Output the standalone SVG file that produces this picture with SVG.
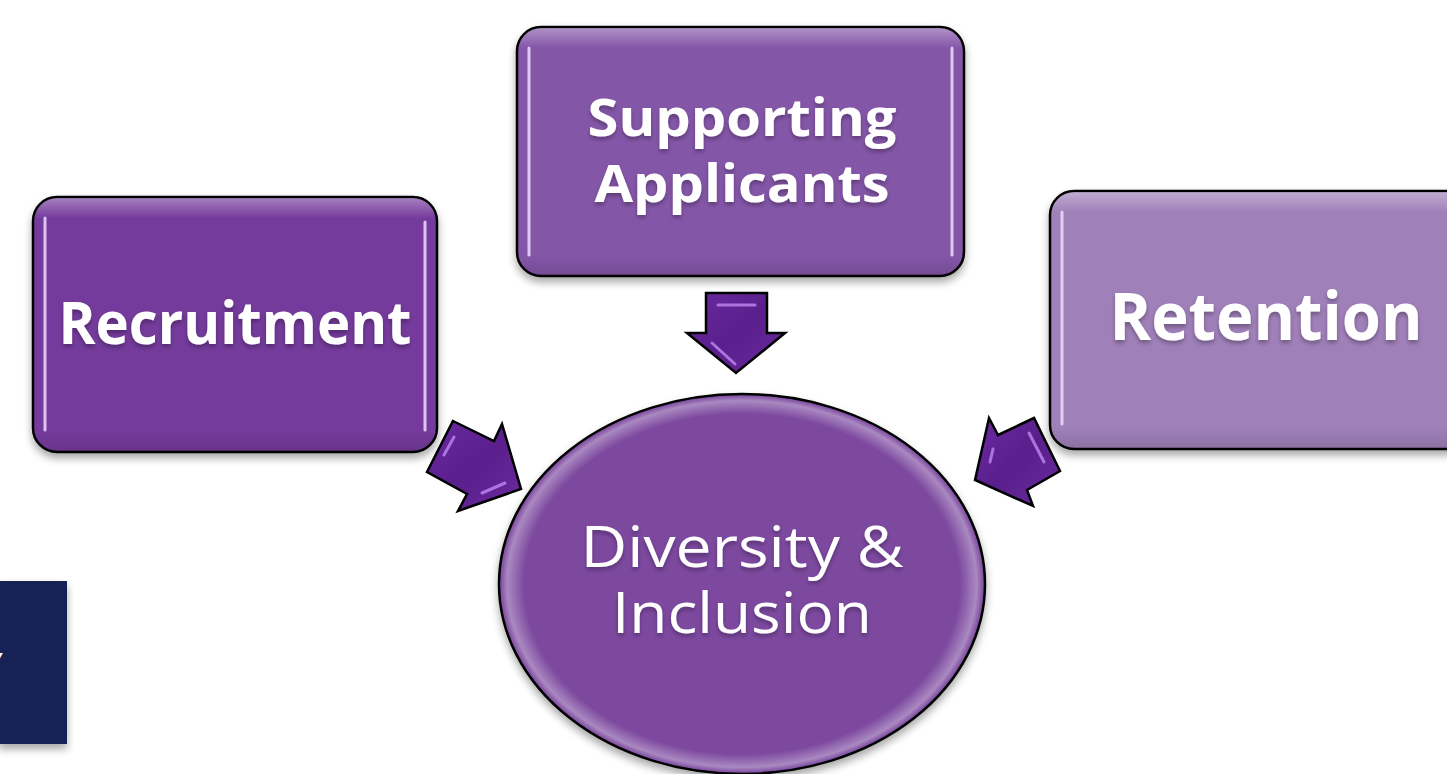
<svg xmlns="http://www.w3.org/2000/svg" width="1447" height="774" viewBox="0 0 1447 774">
  <defs>
    <filter id="shadow" x="-10%" y="-10%" width="120%" height="130%">
      <feGaussianBlur in="SourceAlpha" stdDeviation="4"/>
      <feOffset dx="0" dy="5" result="b"/>
      <feComponentTransfer><feFuncA type="linear" slope="0.35"/></feComponentTransfer>
      <feMerge><feMergeNode/><feMergeNode in="SourceGraphic"/></feMerge>
    </filter>
    <filter id="tshadow" x="-10%" y="-20%" width="120%" height="150%">
      <feGaussianBlur in="SourceAlpha" stdDeviation="2"/>
      <feOffset dx="0" dy="3" result="b"/>
      <feComponentTransfer><feFuncA type="linear" slope="0.3"/></feComponentTransfer>
      <feMerge><feMergeNode/><feMergeNode in="SourceGraphic"/></feMerge>
    </filter>
    <linearGradient id="arrowGrad" x1="0" y1="0" x2="1" y2="1">
      <stop offset="0" stop-color="#6a2aa0"/>
      <stop offset="0.5" stop-color="#5a1f8c"/>
      <stop offset="1" stop-color="#6b2a9e"/>
    </linearGradient>
    <linearGradient id="gloss" x1="0" y1="0" x2="0" y2="1">
      <stop offset="0" stop-color="#ffffff" stop-opacity="0.35"/>
      <stop offset="0.08" stop-color="#ffffff" stop-opacity="0"/>
      <stop offset="0.92" stop-color="#000000" stop-opacity="0"/>
      <stop offset="1" stop-color="#000000" stop-opacity="0.12"/>
    </linearGradient>
    <radialGradient id="ellGloss" cx="0.5" cy="0.5" r="0.5">
      <stop offset="0.9" stop-color="#ffffff" stop-opacity="0"/>
      <stop offset="0.97" stop-color="#ffffff" stop-opacity="0.35"/>
      <stop offset="1" stop-color="#ffffff" stop-opacity="0"/>
    </radialGradient>
  </defs>
  <style>
    .box { stroke: #000; stroke-width: 2.5; }
    .hl { stroke: #f0dcff; stroke-width: 3; stroke-linecap: round; opacity: 0.85; fill: none; }
    .arrow { fill: url(#arrowGrad); stroke: #000; stroke-width: 2.5; stroke-linejoin: miter; }
    .ahl { stroke: #b57ee6; stroke-width: 3; stroke-linecap: round; fill: none; opacity: 0.9; }
    .lbl { fill: #fff; font-family: "Open Sans", "Liberation Sans", sans-serif; text-anchor: middle; }
    .bold { font-weight: 700; }
  </style>

  <rect width="1447" height="774" fill="#ffffff"/>

  <g id="logo-block">
    <rect x="-2" y="581" width="69" height="163" fill="#142456" filter="url(#shadow)"/>
    <clipPath id="logoClip"><rect x="0" y="581" width="67" height="163"/></clipPath>
    <g clip-path="url(#logoClip)">
      <text x="-14" y="668" font-family="Liberation Sans, sans-serif" font-weight="700" font-style="italic" font-size="28" fill="#fff">y</text>
    </g>
  </g>

  <g id="connectors">
    <g id="arrow-top">
      <polygon class="arrow" points="706,293 767,293 767,333 785,333 736,373 687,333 706,333"/>
      <line class="ahl" x1="718" y1="305" x2="755" y2="305" opacity="0.6"/>
      <line class="ahl" x1="712" y1="343" x2="735" y2="364"/>
    </g>
    <g id="arrow-left">
      <polygon class="arrow" points="453,421 494,441 502,424 521,489 458,511 467,494 427,472"/>
      <line class="ahl" x1="454" y1="437" x2="444" y2="455"/>
      <line class="ahl" x1="482" y1="493" x2="505" y2="483"/>
    </g>
    <g id="arrow-right">
      <polygon class="arrow" points="989,418 998,435 1034,418 1060,471 1027,490 1033,506 975,480"/>
      <line class="ahl" x1="1029" y1="433" x2="1044" y2="462"/>
      <line class="ahl" x1="993" y1="449" x2="990" y2="462" opacity="0.6"/>
    </g>
  </g>

  <g id="node-recruitment">
    <rect class="box" x="33" y="197" width="404" height="255" rx="24" fill="#743a9c" filter="url(#shadow)"/>
    <rect x="34" y="198" width="402" height="253" rx="23" fill="url(#gloss)"/>
    <line class="hl" x1="45" y1="218" x2="45" y2="430"/>
    <line class="hl" x1="425" y1="222" x2="425" y2="430"/>
    <text class="lbl bold" x="235" y="344" font-size="59" textLength="353" lengthAdjust="spacingAndGlyphs" filter="url(#tshadow)">Recruitment</text>
  </g>

  <g id="node-supporting">
    <rect class="box" x="517" y="27" width="447" height="249" rx="24" fill="#8456a8" filter="url(#shadow)"/>
    <rect x="518" y="28" width="445" height="247" rx="23" fill="url(#gloss)"/>
    <line class="hl" x1="529" y1="48" x2="529" y2="255" opacity="0.5"/>
    <line class="hl" x1="952" y1="48" x2="952" y2="255" opacity="0.5"/>
    <text class="lbl bold" x="742" y="136" font-size="52" textLength="309" lengthAdjust="spacingAndGlyphs" filter="url(#tshadow)">Supporting</text>
    <text class="lbl bold" x="742" y="202" font-size="52" textLength="295" lengthAdjust="spacingAndGlyphs" filter="url(#tshadow)">Applicants</text>
  </g>

  <g id="node-retention">
    <rect class="box" x="1050" y="191" width="420" height="258" rx="24" fill="#9f80b9" filter="url(#shadow)"/>
    <rect x="1051" y="192" width="418" height="256" rx="23" fill="url(#gloss)"/>
    <line class="hl" x1="1062" y1="212" x2="1062" y2="424" opacity="0.6"/>
    <text class="lbl bold" x="1266" y="340" font-size="67" textLength="313" lengthAdjust="spacingAndGlyphs" filter="url(#tshadow)">Retention</text>
  </g>

  <g id="node-diversity">
    <ellipse class="box" cx="742" cy="584" rx="243" ry="190" fill="#7b4a9f" filter="url(#shadow)"/>
    <ellipse cx="742" cy="584" rx="242" ry="189" fill="url(#ellGloss)"/>
    <text class="lbl" x="742" y="567" font-size="56" textLength="323" lengthAdjust="spacingAndGlyphs" filter="url(#tshadow)">Diversity &amp;</text>
    <text class="lbl" x="742" y="633" font-size="56" textLength="260" lengthAdjust="spacingAndGlyphs" filter="url(#tshadow)">Inclusion</text>
  </g>
</svg>
